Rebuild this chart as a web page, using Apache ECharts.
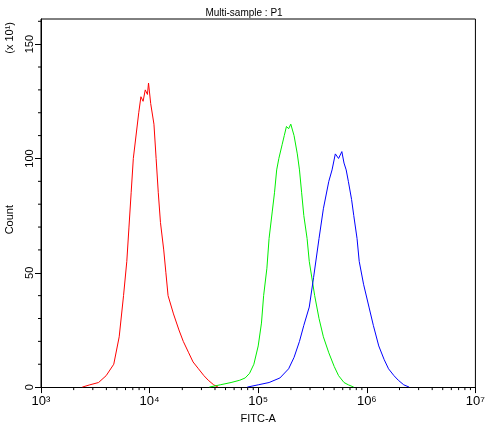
<!DOCTYPE html><html><head><meta charset="utf-8"><script src="https://cdn.jsdelivr.net/npm/echarts@6/dist/echarts.min.js"></script>
<style>body{margin:0}#c{width:488px;height:429px}</style></head><body><div id="c"></div><script>
const redX=[3.38,3.45,3.53,3.6,3.67,3.72,3.76,3.79,3.81,3.83,3.85,3.88,3.9,3.92,3.94,3.96,3.98,3.99,4.01,4.04,4.06,4.08,4.1,4.13,4.15,4.17,4.22,4.27,4.31,4.36,4.4,4.45,4.5,4.54,4.59,4.63];
const redY=[0,1,2,5,10,22,40,55,70,85,100,112,120,127,125,130,128,133,124,115,100,85,72,60,50,40,32,25,20,15,11,8,5,3,1,0];
const greenX=[4.55,4.65,4.75,4.83,4.88,4.92,4.96,5.0,5.03,5.05,5.08,5.1,5.13,5.15,5.17,5.19,5.22,5.24,5.26,5.28,5.3,5.33,5.36,5.38,5.4,5.42,5.45,5.47,5.52,5.56,5.6,5.65,5.7,5.74,5.79,5.83,5.88];
const greenY=[0,1,2,3,4,6,10,18,28,40,52,65,77,85,95,100,106,110,114,113,115,110,102,95,85,75,65,55,40,30,22,15,9,5,2,1,0];
const blueX=[4.9,5.0,5.1,5.2,5.28,5.33,5.38,5.42,5.47,5.51,5.56,5.6,5.65,5.68,5.71,5.74,5.77,5.79,5.81,5.83,5.86,5.88,5.91,5.93,5.97,6.02,6.06,6.11,6.16,6.2,6.25,6.29,6.34,6.39];
const blueY=[0,1,2,4,8,13,20,27,35,48,65,78,90,95,102,100,103,98,95,90,82,75,65,55,45,35,27,18,12,8,5,3,1,0];
const yMinor=[10,20,30,40,60,70,80,90,110,120,130,140,160];
const minor=[];for(let d=3;d<7;d++)for(let k=2;k<10;k++)minor.push(d+Math.log10(k));
const sup={3:'³',4:'⁴',5:'⁵',6:'⁶',7:'⁷'};
const z=(xs,ys)=>xs.map((x,i)=>[x,ys[i]]);
const ch=echarts.init(document.getElementById('c'));
const tx={color:'#000',fontFamily:'Liberation Sans, Arial',fontSize:11};
const tick=(isX)=>function(p,api){const pt=api.coord([api.value(0),api.value(1)]);
return {type:'line',shape:isX?{x1:pt[0],y1:pt[1],x2:pt[0],y2:pt[1]+3}:{x1:pt[0]-3,y1:pt[1],x2:pt[0],y2:pt[1]},style:{stroke:'#000',lineWidth:1}};};
const frame=function(p,api){const a=api.coord([3,161]),b=api.coord([7,0]);
return {type:'polyline',shape:{points:[[a[0],b[1]],[a[0],a[1]],[b[0],a[1]],[b[0],b[1]]]},style:{stroke:'#000',lineWidth:1,fill:null}};};
ch.setOption({animation:false,
title:{text:'Multi-sample : P1',left:'center',top:3,textStyle:{fontSize:10,fontWeight:'normal',color:'#000',fontFamily:'Liberation Sans'}},
graphic:[{type:'text',left:4,top:205,rotation:Math.PI/2,style:{text:'Count',font:'11px Liberation Sans',fill:'#000'}},
{type:'text',left:4,top:22,rotation:Math.PI/2,style:{text:'(x 10¹)',font:'11px Liberation Sans',fill:'#000'}}],
grid:{left:41,right:10,top:19,bottom:39},
xAxis:{type:'value',min:3,max:7,interval:1,name:'FITC-A',nameLocation:'middle',nameGap:22,nameTextStyle:tx,
axisLine:{onZero:false,lineStyle:{color:'#000'}},axisTick:{length:6,lineStyle:{color:'#000'}},splitLine:{show:false},
axisLabel:{formatter:v=>'10'+sup[v],fontSize:13,color:'#000',fontFamily:'Liberation Sans'}},
yAxis:{type:'value',min:0,max:161,interval:50,axisLine:{show:true,onZero:false,lineStyle:{color:'#000'}},axisTick:{length:6,lineStyle:{color:'#000'}},splitLine:{show:false},
axisLabel:{rotate:90,color:'#000',fontFamily:'Liberation Sans',fontSize:11,margin:6,showMaxLabel:false,formatter:v=>v>155?'':v}},
series:[{type:'line',data:z(redX,redY),showSymbol:false,lineStyle:{color:'#ff0000',width:1}},
{type:'line',data:z(greenX,greenY),showSymbol:false,lineStyle:{color:'#00ee00',width:1}},
{type:'line',data:z(blueX,blueY),showSymbol:false,lineStyle:{color:'#0000ff',width:1}},
{type:'custom',data:minor.map(v=>[v,0]),renderItem:tick(true),clip:false,silent:true},
{type:'custom',data:yMinor.map(v=>[3,v]),renderItem:tick(false),clip:false,silent:true},
{type:'custom',data:[[3,0]],renderItem:frame,clip:false,silent:true}]});
</script></body></html>
